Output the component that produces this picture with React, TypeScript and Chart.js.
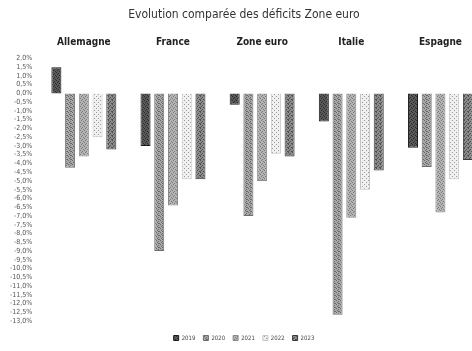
import React, { useEffect, useRef } from "react";
import { Chart, registerables } from "chart.js";

Chart.register(...registerables);

const titleText = "Evolution comparée des déficits Zone euro";
const categories = ["Allemagne", "France", "Zone euro", "Italie", "Espagne"];
const years = ["2019", "2020", "2021", "2022", "2023"];
const s2019 = [1.5, -3.0, -0.65, -1.6, -3.1];
const s2020 = [-4.25, -9.0, -7.0, -12.65, -4.2];
const s2021 = [-3.6, -6.4, -5.0, -7.1, -6.8];
const s2022 = [-2.5, -4.9, -3.45, -5.5, -4.9];
const s2023 = [-3.2, -4.9, -3.6, -4.4, -3.8];
const yMin = -13;
const yMax = 2;
const yStep = 0.5;

function makePattern(base: string, dot: string, pts: number[][]) {
  const c = document.createElement("canvas");
  c.width = 4;
  c.height = 4;
  const g = c.getContext("2d")!;
  g.fillStyle = base;
  g.fillRect(0, 0, 4, 4);
  g.fillStyle = dot;
  pts.forEach(([x, y]) => g.fillRect(x, y, 1, 1));
  const ctx = document.createElement("canvas").getContext("2d")!;
  return ctx.createPattern(c, "repeat") as CanvasPattern;
}

export default function App() {
  const ref = useRef<HTMLCanvasElement | null>(null);
  useEffect(() => {
    document.body.style.margin = "0";
    const p2019 = makePattern("#5a5a5a", "#2a2a2a", [[0, 0], [2, 1], [1, 2], [3, 3]]);
    const p2020 = makePattern("#a8a8a8", "#6a6a6a", [[0, 0], [2, 1], [1, 2], [3, 3], [2, 3]]);
    const p2021 = makePattern("#b4b4b4", "#7a7a7a", [[1, 0], [3, 1], [0, 2], [2, 3]]);
    const p2022 = makePattern("#f0f0f0", "#9a9a9a", [[0, 0], [2, 2]]);
    const p2023 = makePattern("#8c8c8c", "#505050", [[0, 0], [2, 1], [1, 2], [3, 3], [0, 3]]);
    const fills = [p2019, p2020, p2021, p2022, p2023];
    const borders = ["#1a1a1a", "#6e6e6e", "#8a8a8a", "#c4c4c4", "#3a3a3a"];
    const series = [s2019, s2020, s2021, s2022, s2023];
    const chart = new Chart(ref.current!, {
      type: "bar",
      data: {
        labels: categories,
        datasets: years.map((y, i) => ({
          label: y,
          data: series[i],
          backgroundColor: fills[i],
          borderColor: borders[i],
          borderWidth: 1,
          categoryPercentage: 0.77,
          barPercentage: 0.73,
        })),
      },
      options: {
        responsive: false,
        animation: false,
        layout: { padding: { left: 3, right: 15, top: 0, bottom: 0 } },
        plugins: {
          title: {
            display: true,
            text: titleText,
            color: "#333",
            font: { family: "DejaVu Sans Condensed, DejaVu Sans", size: 12, weight: "normal" },
            padding: { top: 8, bottom: 4 },
          },
          legend: {
            position: "bottom",
            labels: {
              boxWidth: 5,
              boxHeight: 5,
              padding: 8,
              color: "#444",
              font: { family: "DejaVu Sans Condensed, DejaVu Sans", size: 6 },
            },
          },
          tooltip: { enabled: false },
        },
        scales: {
          x: {
            position: "top",
            grid: { display: false, drawTicks: false },
            border: { display: false },
            ticks: {
              padding: 10,
              color: "#222",
              font: { family: "DejaVu Sans Condensed, DejaVu Sans", size: 10, weight: "bold" },
            },
          },
          xb: {
            type: "category",
            position: "bottom",
            grid: { display: false, drawTicks: false },
            border: { display: false },
            ticks: { display: false },
            afterFit: (s: any) => {
              s.height = 6;
            },
          },
          y: {
            min: yMin,
            max: yMax,
            grid: { display: false, drawTicks: false },
            border: { display: false },
            ticks: {
              stepSize: yStep,
              autoSkip: false,
              padding: 7,
              color: "#555",
              font: { family: "DejaVu Sans Condensed, DejaVu Sans", size: 7 },
              callback: (v: any) => Number(v).toFixed(1).replace(".", ",").replace("-0,0", "0,0") + "%",
            },
          },
        },
      },
    } as any);
    return () => chart.destroy();
  }, []);
  return (
    <div style={{ width: 472, height: 351, overflow: "hidden", background: "#fff" }}>
      <canvas ref={ref} width={500} height={351} style={{ display: "block" }} />
    </div>
  );
}
